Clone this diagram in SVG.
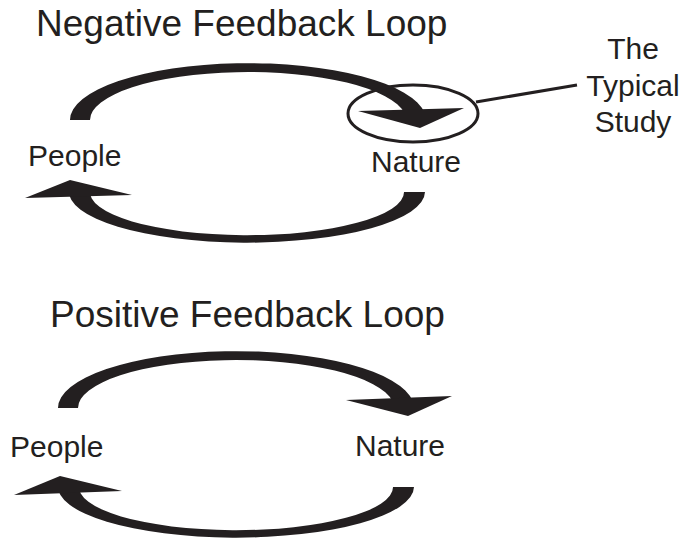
<svg xmlns="http://www.w3.org/2000/svg" width="683" height="540" viewBox="0 0 683 540">
  <style>
    .title { font-family: "Liberation Sans", Arial, sans-serif; font-size: 37px; fill: #231f20; }
    .label { font-family: "Liberation Sans", Arial, sans-serif; font-size: 30px; fill: #231f20; }
    .note { font-family: "Liberation Sans", Arial, sans-serif; font-size: 30px; fill: #231f20; text-anchor: middle; }
    .arc { fill: #231f20; stroke: none; }
    .ring { fill: none; stroke: #231f20; stroke-width: 3; }
    .leader { fill: none; stroke: #231f20; stroke-width: 3; }
  </style>

  <rect width="683" height="540" fill="#ffffff"/>

  <!-- titles -->
  <g id="title-negative"><text class="title" x="36" y="36">Negative Feedback Loop</text></g>
  <g id="title-positive"><text class="title" x="50" y="327">Positive Feedback Loop</text></g>

  <!-- nodes -->
  <g id="people-negative"><text class="label" x="28" y="166">People</text></g>
  <g id="nature-negative"><text class="label" x="371" y="172">Nature</text></g>
  <g id="people-positive"><text class="label" x="10" y="457">People</text></g>
  <g id="nature-positive"><text class="label" x="355" y="456">Nature</text></g>

  <g id="typical-study">
    <text class="note" x="633" y="59">The</text>
    <text class="note" x="633" y="96">Typical</text>
    <text class="note" x="633" y="132">Study</text>
  </g>

  <!-- connectors: curved arrows drawn as filled bands with arrowheads -->
  <g id="connectors">
    <!-- negative loop: People to Nature -->
    <path class="arc" d="M 70 120 A 178 57 0 0 1 424.6 113 L 404.3 113 A 158 48 0 0 0 90 120 Z"/>
    <polygon class="arc" points="358,111 464,108 420,128"/>
    <!-- negative loop: Nature to People -->
    <path class="arc" d="M 425 192 A 178 51 0 1 1 69.1 190 L 90.2 190 A 157 43 0 1 0 404 192 Z"/>
    <polygon class="arc" points="25,198 70,180 132,195"/>

    <!-- positive loop: People to Nature -->
    <path class="arc" d="M 58 408 A 178 57 0 0 1 412.6 401 L 392.3 401 A 158 48 0 0 0 78 408 Z"/>
    <polygon class="arc" points="346,400 452,396 408,416"/>
    <!-- positive loop: Nature to People -->
    <path class="arc" d="M 414 487 A 178 51 0 1 1 58.1 485 L 79.2 485 A 157 43 0 1 0 393 487 Z"/>
    <polygon class="arc" points="14,495 60,476 122,491"/>

    <!-- callout ring around the arrowhead and its leader -->
    <ellipse class="ring" cx="413" cy="113.5" rx="65" ry="28.5"/>
    <line class="leader" x1="476" y1="102" x2="577" y2="85"/>
  </g>
</svg>
